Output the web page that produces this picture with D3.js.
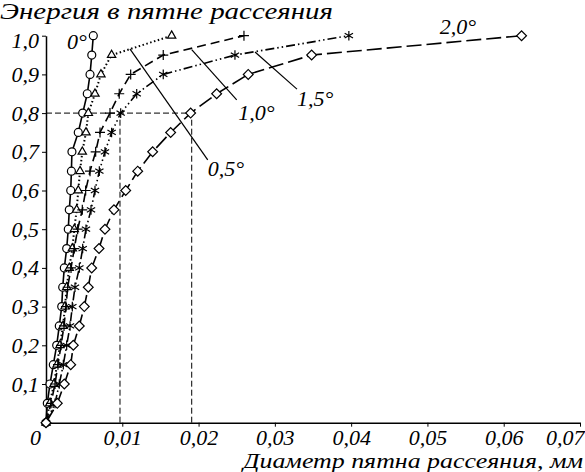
<!DOCTYPE html>
<html>
<head>
<meta charset="utf-8">
<script src="https://cdn.jsdelivr.net/npm/d3@7"></script>
<style>
  body { margin: 0; background: #fff; }
  svg text { font-family: "Liberation Serif", "DejaVu Serif", serif; font-style: italic; fill: #000; }
</style>
</head>
<body>
<div id="chart"></div>
<script>
// Energy fraction in the scattering spot vs. spot diameter (mm)
const energy = [0, 0.05, 0.1, 0.15, 0.2, 0.25, 0.3, 0.35, 0.4, 0.45, 0.5,
                0.55, 0.6, 0.65, 0.7, 0.75, 0.8, 0.85, 0.9, 0.95, 1.0];

const diam0 = [0, 0.00017, 0.00052, 0.00096, 0.0014, 0.00174, 0.00206, 0.00219, 0.0024, 0.00271, 0.00292,
               0.00305, 0.00324, 0.00333, 0.0034, 0.00423, 0.00481, 0.00541, 0.00577, 0.0060, 0.0062];
const diam05 = [0, 0.0005, 0.00105, 0.00144, 0.00183, 0.00223, 0.00249, 0.00271, 0.00305, 0.00345, 0.00371,
                0.00402, 0.00423, 0.00446, 0.00476, 0.00524, 0.00555, 0.00642, 0.0072, 0.0086, 0.01647];
const diam10 = [0, 0.00066, 0.00118, 0.00157, 0.00197, 0.00236, 0.00262, 0.00284, 0.00328, 0.00371, 0.00415,
                0.00476, 0.0052, 0.00577, 0.00651, 0.00708, 0.00839, 0.0096, 0.0111, 0.01537, 0.02595];
const diam15 = [0, 0.00118, 0.00174, 0.00227, 0.00271, 0.00315, 0.00345, 0.0038, 0.00437, 0.00481, 0.00524,
                0.0059, 0.00642, 0.00699, 0.00773, 0.0086, 0.00979, 0.01189, 0.01537, 0.02477, 0.0397];
const diam20 = [0, 0.00148, 0.0024, 0.00324, 0.00358, 0.00436, 0.00502, 0.00554, 0.00599, 0.00695, 0.00773,
                0.00891, 0.01045, 0.01202, 0.01398, 0.01634, 0.01896, 0.02237, 0.02651, 0.03482, 0.06234];

const xTicks = [0, 0.01, 0.02, 0.03, 0.04, 0.05, 0.06, 0.07];
const xTickLabels = ['0', '0,01', '0,02', '0,03', '0,04', '0,05', '0,06', '0,07'];
const yTicks = [0.1, 0.2, 0.3, 0.4, 0.5, 0.6, 0.7, 0.8, 0.9, 1.0];
const yTickLabels = ['0,1', '0,2', '0,3', '0,4', '0,5', '0,6', '0,7', '0,8', '0,9', '1,0'];

// curve labels: [text, x, y] and leader lines [x1, y1, x2, y2] in data units
const curveLabels = [
  ['0°', 0.00275, 0.966],
  ['0,5°', 0.0212, 0.637],
  ['1,0°', 0.0252, 0.782],
  ['1,5°', 0.0329, 0.819],
  ['2,0°', 0.0516, 1.004]
];
const leaders = [
  [0.0110, 0.966, 0.0212, 0.679],
  [0.0191, 0.964, 0.0250, 0.834],
  [0.0274, 0.958, 0.0329, 0.862]
];
// reference level 0.8 and the two read-off diameters
const refLevel = 0.8;
const refDiams = [0.0097, 0.0191];

const width = 585, height = 472;
const margin = { top: 35.7, right: 5, bottom: 49.3, left: 46 };

const svg = d3.select('#chart').append('svg')
  .attr('width', width)
  .attr('height', height);

const x = d3.scaleLinear().domain([0, 0.07]).range([margin.left, width - margin.right]);
const y = d3.scaleLinear().domain([0, 1]).range([height - margin.bottom, margin.top]);

// X Axis
const xAxis = svg.append('g')
  .attr('transform', `translate(0,${y(0)})`)
  .call(d3.axisBottom(x).tickValues(xTicks).tickSize(4).tickSizeOuter(0)
    .tickFormat((d, i) => xTickLabels[i]));
xAxis.select('.domain').attr('stroke-width', 1.5);
xAxis.selectAll('text')
  .style('font-size', '22px')
  .attr('y', 7)
  .attr('dy', '0.71em')
  .attr('dx', (d, i) => i === 0 ? -11 : 0)
  .attr('text-anchor', (d, i) => i === xTicks.length - 1 ? 'end' : 'middle')
  .attr('x', (d, i) => i === xTicks.length - 1 ? 4 : 0);

// Y Axis
const yAxis = svg.append('g')
  .attr('transform', `translate(${x(0)},0)`)
  .call(d3.axisLeft(y).tickValues(yTicks).tickSize(4).tickSizeOuter(0)
    .tickFormat((d, i) => yTickLabels[i]));
yAxis.select('.domain').attr('stroke-width', 1.5);
yAxis.selectAll('text')
  .style('font-size', '22px')
  .attr('x', -7)
  .attr('dy', (d, i) => i === yTicks.length - 1 ? '0.55em' : '0.32em');

// Axis titles
svg.append('text')
  .attr('x', 0)
  .attr('y', 19)
  .attr('textLength', 333)
  .attr('lengthAdjust', 'spacingAndGlyphs')
  .style('font-size', '23px')
  .text('Энергия в пятне рассеяния');

svg.append('text')
  .attr('x', 243)
  .attr('y', 468)
  .attr('textLength', 340)
  .attr('lengthAdjust', 'spacingAndGlyphs')
  .style('font-size', '22px')
  .text('Диаметр пятна рассеяния, мм');

// Reference dashed lines
svg.append('line')
  .attr('x1', x(0)).attr('y1', y(refLevel))
  .attr('x2', x(d3.max(refDiams))).attr('y2', y(refLevel))
  .attr('stroke', '#000').attr('stroke-width', 1)
  .attr('stroke-dasharray', '6,3');
svg.selectAll('.ref-v')
  .data(refDiams)
  .enter().append('line')
  .attr('class', 'ref-v')
  .attr('x1', d => x(d)).attr('y1', y(0))
  .attr('x2', d => x(d)).attr('y2', y(refLevel))
  .attr('stroke', '#000').attr('stroke-width', 1)
  .attr('stroke-dasharray', '6,3');

// Leader lines
svg.selectAll('.leader')
  .data(leaders)
  .enter().append('line')
  .attr('class', 'leader')
  .attr('x1', d => x(d[0])).attr('y1', d => y(d[1]))
  .attr('x2', d => x(d[2])).attr('y2', d => y(d[3]))
  .attr('stroke', '#000').attr('stroke-width', 1.2);

// Series
const series = [
  { values: diam0, dash: null, marker: 'circle' },
  { values: diam05, dash: '1.5,2.5', marker: 'triangle' },
  { values: diam10, dash: '9,5', marker: 'plus' },
  { values: diam15, dash: '9,3,1.5,3,1.5,3', marker: 'star' },
  { values: diam20, dash: '15,5', marker: 'diamond' }
];

const line = d3.line()
  .x(d => x(d[0]))
  .y(d => y(d[1]));

function markerPath(type) {
  if (type === 'plus') return 'M-5,0H5M0,-5V5';
  if (type === 'star') {
    const r = 4.8, c = r * Math.cos(Math.PI / 6), s = r * Math.sin(Math.PI / 6);
    return `M0,${-r}V${r}M${-c},${-s}L${c},${s}M${-c},${s}L${c},${-s}`;
  }
  if (type === 'triangle') return d3.symbol(d3.symbolTriangle, 30)();
  if (type === 'diamond') return d3.symbol(d3.symbolSquare, 48)();
  return d3.symbol(d3.symbolCircle, 50)();
}

series.forEach(s => {
  const pts = s.values.map((v, i) => [v, energy[i]]);

  svg.append('path')
    .datum(pts)
    .attr('fill', 'none')
    .attr('stroke', '#000')
    .attr('stroke-width', s.marker === 'triangle' ? 2 : 1.6)
    .attr('stroke-dasharray', s.dash)
    .attr('d', line);

  const filled = s.marker !== 'plus' && s.marker !== 'star';
  svg.selectAll(`.m-${s.marker}`)
    .data(pts)
    .enter().append('path')
    .attr('class', `m-${s.marker}`)
    .attr('transform', d => `translate(${x(d[0])},${y(d[1])})` + (s.marker === 'diamond' ? ' rotate(45)' : ''))
    .attr('d', markerPath(s.marker))
    .attr('fill', filled ? '#fff' : 'none')
    .attr('stroke', '#000')
    .attr('stroke-width', 1.2);
});

// Curve labels
svg.selectAll('.curve-label')
  .data(curveLabels)
  .enter().append('text')
  .attr('class', 'curve-label')
  .attr('x', d => x(d[1]))
  .attr('y', d => y(d[2]))
  .style('font-size', '22px')
  .text(d => d[0]);
</script>
</body>
</html>
